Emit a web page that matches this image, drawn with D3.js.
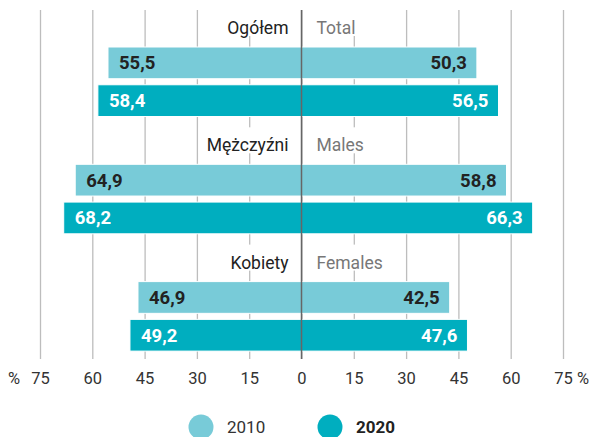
<!DOCTYPE html>
<html>
<head>
<meta charset="utf-8">
<script src="https://cdn.jsdelivr.net/npm/d3@7"></script>
<style>
  body { margin: 0; background: #fff; }
  svg { display: block; font-family: Roboto, "Noto Sans", sans-serif; }
</style>
</head>
<body>
<div id="chart"></div>
<script>
// categories and labels
const groupsPl = ['Ogółem', 'Mężczyźni', 'Kobiety'];
const groupsEn = ['Total', 'Males', 'Females'];
const years = ['2010', '2020'];

// left side (one side of the comparison) and right side values, by year
const left2010 = [55.5, 64.9, 46.9];
const left2020 = [58.4, 68.2, 49.2];
const right2010 = [50.3, 58.8, 42.5];
const right2020 = [56.5, 66.3, 47.6];

const tickValues = [-75, -60, -45, -30, -15, 0, 15, 30, 45, 60, 75];

const colors = { '2010': '#78cbd8', '2020': '#00aebf' };
const labelColors = { '2010': '#222', '2020': '#fff' };

const W = 594, H = 437;
const gridTop = 10, gridBottom = 359;

const svg = d3.select('#chart').append('svg')
  .attr('width', W)
  .attr('height', H);

const x = d3.scaleLinear().domain([-75, 75]).range([40, 563]);

const y = d3.scaleBand()
  .domain(groupsPl)
  .range([gridTop, gridTop + 3 * 117.3]);

const yInner = d3.scaleBand()
  .domain(years)
  .range([37, 106.5])
  .paddingInner(0.16);

// grid (drawn with the axis)
const axis = svg.append('g')
  .attr('transform', `translate(0,${gridBottom})`)
  .call(d3.axisBottom(x)
    .tickValues(tickValues)
    .tickSize(-(gridBottom - gridTop))
    .tickPadding(13)
    .tickFormat(d => Math.abs(d)));

axis.select('.domain').remove();
axis.selectAll('.tick line').attr('stroke', '#bdbdbd').attr('stroke-width', 1.3);
axis.selectAll('.tick text')
  .attr('fill', '#333')
  .style('font-size', '16.5px')
  .style('font-family', 'Roboto, "Noto Sans", sans-serif')
  .attr('dy', '0.71em');

// "%" unit marks next to the outer ticks
[[-75, -20, 'end'], [75, 14, 'start']].forEach(([v, off, anchor]) => {
  svg.append('text')
    .attr('x', x(v) + off)
    .attr('y', gridBottom + 13)
    .attr('dy', '0.71em')
    .attr('text-anchor', anchor)
    .attr('fill', '#333')
    .style('font-size', '16.5px')
    .text('%');
});

// rows: one per group and year
const rows = groupsPl.flatMap((g, i) => [
  { group: g, year: '2010', left: left2010[i], right: right2010[i] },
  { group: g, year: '2020', left: left2020[i], right: right2020[i] }
]);

const fmt = v => v.toFixed(1).replace('.', ',');
const rowY = d => y(d.group) + yInner(d.year);

// category labels with white background
groupsPl.forEach((g, i) => {
  const cy = y(g) + 18;
  const lbl = svg.append('g');
  const tPl = lbl.append('text')
    .attr('x', x(0) - 13)
    .attr('y', cy)
    .attr('dy', '0.35em')
    .attr('text-anchor', 'end')
    .attr('fill', '#222')
    .style('font-size', '17.5px')
    .text(g);
  const tEn = lbl.append('text')
    .attr('x', x(0) + 15)
    .attr('y', cy)
    .attr('dy', '0.35em')
    .attr('fill', '#777')
    .style('font-size', '17.5px')
    .text(groupsEn[i]);
  [tPl, tEn].forEach(t => {
    const b = t.node().getBBox();
    lbl.insert('rect', 'text')
      .attr('x', b.x - 8)
      .attr('y', y(g))
      .attr('width', b.width + 16)
      .attr('height', 26)
      .attr('fill', '#fff');
  });
});

// bars
svg.selectAll('.bar-left')
  .data(rows)
  .join('rect')
  .attr('class', 'bar-left')
  .attr('x', d => x(-d.left))
  .attr('y', rowY)
  .attr('width', d => x(0) - x(-d.left))
  .attr('height', yInner.bandwidth())
  .attr('fill', d => colors[d.year])
  .attr('stroke', '#fff')
  .attr('stroke-width', 1);

svg.selectAll('.bar-right')
  .data(rows)
  .join('rect')
  .attr('class', 'bar-right')
  .attr('x', x(0))
  .attr('y', rowY)
  .attr('width', d => x(d.right) - x(0))
  .attr('height', yInner.bandwidth())
  .attr('fill', d => colors[d.year])
  .attr('stroke', '#fff')
  .attr('stroke-width', 1);

// value labels
svg.selectAll('.val-left')
  .data(rows)
  .join('text')
  .attr('class', 'val-left')
  .attr('x', d => x(-d.left) + 11)
  .attr('y', d => rowY(d) + yInner.bandwidth() / 2)
  .attr('dy', '0.35em')
  .attr('fill', d => labelColors[d.year])
  .style('font-size', '18.5px')
  .style('font-weight', 'bold')
  .text(d => fmt(d.left));

svg.selectAll('.val-right')
  .data(rows)
  .join('text')
  .attr('class', 'val-right')
  .attr('x', d => x(d.right) - 10)
  .attr('y', d => rowY(d) + yInner.bandwidth() / 2)
  .attr('dy', '0.35em')
  .attr('text-anchor', 'end')
  .attr('fill', d => labelColors[d.year])
  .style('font-size', '18.5px')
  .style('font-weight', 'bold')
  .text(d => fmt(d.right));

// center line on top
svg.append('line')
  .attr('x1', x(0)).attr('x2', x(0))
  .attr('y1', gridTop).attr('y2', gridBottom)
  .attr('stroke', '#666')
  .attr('stroke-width', 1.5);

// legend
const legendX = [201, 330];
years.forEach((yr, i) => {
  svg.append('circle')
    .attr('cx', legendX[i])
    .attr('cy', 427)
    .attr('r', 12.5)
    .attr('fill', colors[yr]);
  svg.append('text')
    .attr('x', legendX[i] + 26)
    .attr('y', 427)
    .attr('dy', '0.35em')
    .attr('fill', i === 1 ? '#222' : '#333')
    .style('font-size', '17px')
    .style('font-weight', i === 1 ? 'bold' : 'normal')
    .text(yr);
});
</script>
</body>
</html>
